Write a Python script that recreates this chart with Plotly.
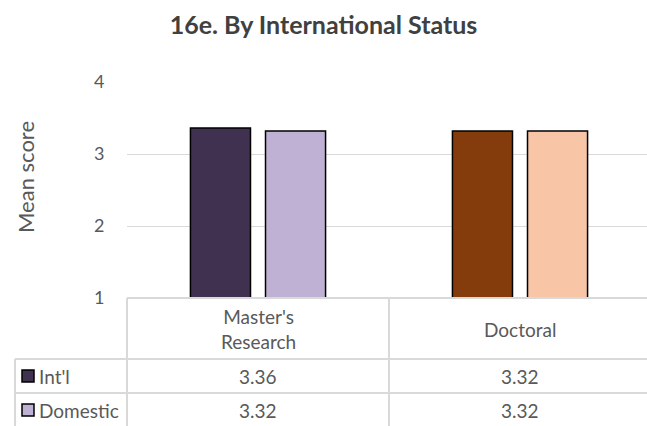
import plotly.graph_objects as go

categories = ["Master's<br>Research", "Doctoral"]
series_names = ["Int'l", "Domestic"]
intl_values = [3.36, 3.32]
domestic_values = [3.32, 3.32]
intl_colors = ["#403151", "#843C0C"]
domestic_colors = ["#BFB1D3", "#F8C6A6"]
legend_key_colors = ["#403151", "#BFB1D3"]
y_ticks = [1, 2, 3, 4]

W, H = 647, 426
L, R, T, B = 127, 0, 82, 128
plot_w = W - L - R
plot_h = H - T - B
cat_px = 262.0

def px_to_paper_x(px):
    return (px - L) / plot_w

def py_to_paper_y(py):
    return (H - B - py) / plot_h

xpos = [0, 1]
fig = go.Figure()
fig.add_trace(go.Bar(x=xpos, y=intl_values, name=series_names[0],
                     marker=dict(color=intl_colors, line=dict(color="#000000", width=1.5)),
                     hoverinfo="y"))
fig.add_trace(go.Bar(x=xpos, y=domestic_values, name=series_names[1],
                     marker=dict(color=domestic_colors, line=dict(color="#000000", width=1.5)),
                     hoverinfo="y"))

font_family = "Lato, 'Open Sans', sans-serif"
grey = "#595959"
line_col = "#D9D9D9"
tbl_size = 19

fig.update_layout(
    width=W, height=H,
    margin=dict(l=L, r=R, t=T, b=B, pad=0),
    paper_bgcolor="white", plot_bgcolor="white",
    barmode="group", bargap=0.427, bargroupgap=0.2,
    showlegend=False,
    font=dict(family=font_family, color=grey, size=tbl_size),
    title=dict(text="<b>16e. By International Status</b>", x=0.5, xanchor="center",
               y=1 - 25 / H, yanchor="middle",
               font=dict(family=font_family, size=25, color="#404040")),
    xaxis=dict(range=[-0.5, -0.5 + plot_w / cat_px], showticklabels=False, showgrid=False,
               zeroline=False, showline=False, fixedrange=True),
    yaxis=dict(range=[1, 4], tickvals=y_ticks, showgrid=True, gridcolor=line_col, gridwidth=1,
               zeroline=False, showline=False, ticks="outside", ticklen=18,
               tickcolor="rgba(0,0,0,0)", tickfont=dict(size=18, color=grey), fixedrange=True),
)

shapes = []
ann = []
# header row top line (from plot left to right)
shapes.append(dict(type="line", xref="paper", yref="paper",
                   x0=px_to_paper_x(127), x1=px_to_paper_x(W + 5),
                   y0=py_to_paper_y(298), y1=py_to_paper_y(298),
                   line=dict(color=line_col, width=2)))
for rt in [359, 393]:
    shapes.append(dict(type="line", xref="paper", yref="paper",
                       x0=px_to_paper_x(15), x1=px_to_paper_x(W + 5),
                       y0=py_to_paper_y(rt), y1=py_to_paper_y(rt),
                       line=dict(color=line_col, width=2)))
# vertical lines
shapes.append(dict(type="line", xref="paper", yref="paper",
                   x0=px_to_paper_x(15), x1=px_to_paper_x(15),
                   y0=py_to_paper_y(359), y1=py_to_paper_y(440),
                   line=dict(color=line_col, width=2)))
for vx in [127, 127 + cat_px]:
    shapes.append(dict(type="line", xref="paper", yref="paper",
                       x0=px_to_paper_x(vx), x1=px_to_paper_x(vx),
                       y0=py_to_paper_y(298), y1=py_to_paper_y(440),
                       line=dict(color=line_col, width=2)))

# category header text
for i, c in enumerate(categories):
    ann.append(dict(x=xpos[i], xref="x", y=py_to_paper_y(329), yref="paper",
                    text=c, showarrow=False, xanchor="center", yanchor="middle",
                    font=dict(size=tbl_size, color=grey)))
# value rows
rows = [intl_values, domestic_values]
row_centers = [376, 410]
for r, vals in enumerate(rows):
    for i, v in enumerate(vals):
        ann.append(dict(x=xpos[i], xref="x", y=py_to_paper_y(row_centers[r]), yref="paper",
                        text=f"{v:.2f}", showarrow=False, xanchor="center", yanchor="middle",
                        font=dict(size=tbl_size, color=grey)))
    # legend key
    shapes.append(dict(type="rect", xref="paper", yref="paper",
                       x0=px_to_paper_x(22), x1=px_to_paper_x(34),
                       y0=py_to_paper_y(row_centers[r] - 6), y1=py_to_paper_y(row_centers[r] + 6),
                       fillcolor=legend_key_colors[r], line=dict(color="#000000", width=1.5)))
    ann.append(dict(x=px_to_paper_x(37), xref="paper", y=py_to_paper_y(row_centers[r]), yref="paper",
                    text=series_names[r], showarrow=False, xanchor="left", yanchor="middle",
                    font=dict(size=tbl_size, color=grey)))

# y-axis title
ann.append(dict(x=px_to_paper_x(25), xref="paper", y=py_to_paper_y(177), yref="paper",
                text="Mean score", textangle=-90, showarrow=False, xanchor="center",
                yanchor="middle", font=dict(size=22, color=grey)))

fig.update_layout(shapes=shapes, annotations=ann)
fig.write_html("out.html", config={"displayModeBar": False},
               post_script="document.body.style.margin='0';document.body.style.overflow='hidden';")
